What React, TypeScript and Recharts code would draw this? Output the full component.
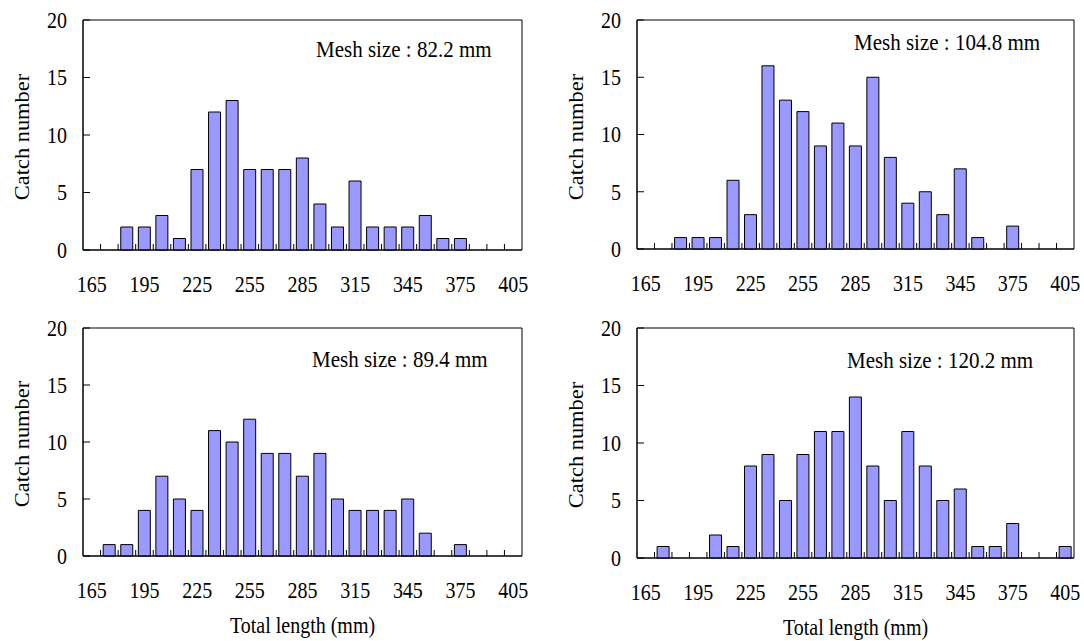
import React from "react";
import { BarChart, Bar, XAxis, YAxis, ReferenceArea } from "recharts";

const LENGTHS = [
  165, 175, 185, 195, 205, 215, 225, 235, 245, 255, 265, 275, 285, 295, 305,
  315, 325, 335, 345, 355, 365, 375, 385, 395, 405,
];
const MESH_82_2 = [0, 0, 2, 2, 3, 1, 7, 12, 13, 7, 7, 7, 8, 4, 2, 6, 2, 2, 2, 3, 1, 1, 0, 0, 0];
const MESH_104_8 = [0, 0, 1, 1, 1, 6, 3, 16, 13, 12, 9, 11, 9, 15, 8, 4, 5, 3, 7, 1, 0, 2, 0, 0, 0];
const MESH_89_4 = [0, 1, 1, 4, 7, 5, 4, 11, 10, 12, 9, 9, 7, 9, 5, 4, 4, 4, 5, 2, 0, 1, 0, 0, 0];
const MESH_120_2 = [0, 1, 0, 0, 2, 1, 8, 9, 5, 9, 11, 11, 14, 8, 5, 11, 8, 5, 6, 1, 1, 3, 0, 0, 1];
const Y_TICKS = [0, 5, 10, 15, 20];

const FONT = '"Liberation Serif", "Times New Roman", serif';
const BAR_FILL = "#9999ff";
const Y_AXIS_W = 83;
// the reference text is a little taller than it is wide
const STRETCH = 1.12;

function XTick(props: any) {
  const { x, y, payload, index, band } = props;
  const axisY = y - 26;
  const showLabel = (payload.value - 165) % 30 === 0;
  return (
    <g>
      {index > 0 && (
        <line x1={x - band / 2} x2={x - band / 2} y1={axisY} y2={axisY - 6} stroke="#000" />
      )}
      {showLabel && (
        <g transform={`translate(${x},${y}) scale(1,${STRETCH})`}>
          <text x={0} y={0} dy="0.71em" textAnchor="middle" fontSize={20} fontFamily={FONT} fill="#000">
            {payload.value}
          </text>
        </g>
      )}
    </g>
  );
}

function YTick(props: any) {
  const { x, y, payload } = props;
  return (
    <g>
      <line x1={x + 16} x2={x + 23} y1={y} y2={y} stroke="#000" />
      <g transform={`translate(${x},${y}) scale(1,${STRETCH})`}>
        <text x={0} y={0} dy="0.35em" textAnchor="end" fontSize={20} fontFamily={FONT} fill="#000">
          {payload.value}
        </text>
      </g>
    </g>
  );
}

interface PanelProps {
  values: number[];
  plotLeft: number;
  plotTop: number;
  plotW: number;
  plotH: number;
  mesh: string;
  meshLeft: number;
  meshTop: number;
  xTitle?: boolean;
}

function Panel({ values, plotLeft, plotTop, plotW, plotH, mesh, meshLeft, meshTop, xTitle }: PanelProps) {
  const data = LENGTHS.map((len, i) => ({ len, count: values[i] }));
  const band = plotW / LENGTHS.length;
  return (
    <>
      <div style={{ position: "absolute", left: plotLeft - Y_AXIS_W, top: plotTop - 20 }}>
        <BarChart
          width={plotW + Y_AXIS_W + 8}
          height={plotH + 70}
          data={data}
          margin={{ top: 20, right: 8, bottom: 10, left: 0 }}
          barCategoryGap="15%"
        >
          <XAxis
            dataKey="len"
            type="category"
            interval={0}
            height={40}
            tickSize={0}
            tickMargin={26}
            tickLine={false}
            axisLine={{ stroke: "#000" }}
            tick={(p: any) => <XTick {...p} band={band} />}
          />
          <YAxis
            type="number"
            domain={[0, 20]}
            ticks={Y_TICKS}
            width={Y_AXIS_W}
            tickSize={0}
            tickMargin={16}
            tickLine={false}
            axisLine={{ stroke: "#000" }}
            tick={(p: any) => <YTick {...p} />}
          />
          <ReferenceArea y1={0} y2={20} fill="none" stroke="#000" strokeWidth={1} ifOverflow="visible" />
          <Bar dataKey="count" fill={BAR_FILL} stroke="#000" strokeWidth={1} isAnimationActive={false} />
        </BarChart>
      </div>
      <div
        style={{
          position: "absolute",
          left: plotLeft - 61,
          top: plotTop + plotH / 2 + 2,
          transform: `translate(-50%, -50%) scale(1, ${STRETCH}) rotate(-90deg)`,
          whiteSpace: "nowrap",
          fontFamily: FONT,
          fontSize: 20,
          lineHeight: "20px",
        }}
      >
        Catch number
      </div>
      <div
        style={{
          position: "absolute",
          left: meshLeft,
          top: meshTop - 11,
          transform: `scale(1, ${STRETCH})`,
          whiteSpace: "nowrap",
          fontFamily: FONT,
          fontSize: 21,
          lineHeight: "21px",
        }}
      >
        {mesh}
      </div>
      {xTitle && (
        <div
          style={{
            position: "absolute",
            left: plotLeft + plotW / 2,
            top: plotTop + plotH + 69,
            transform: `translate(-50%, -50%) scale(1, ${STRETCH})`,
            whiteSpace: "nowrap",
            fontFamily: FONT,
            fontSize: 20,
            lineHeight: "20px",
          }}
        >
          Total length (mm)
        </div>
      )}
    </>
  );
}

export default function App() {
  return (
    <div style={{ position: "absolute", left: 0, top: 0, width: 1084, height: 641, background: "#fff" }}>
      <Panel values={MESH_82_2} plotLeft={83} plotTop={20} plotW={439} plotH={230} mesh="Mesh size : 82.2 mm" meshLeft={316} meshTop={50} />
      <Panel values={MESH_104_8} plotLeft={637} plotTop={20} plotW={437} plotH={229} mesh="Mesh size : 104.8 mm" meshLeft={854} meshTop={43} />
      <Panel values={MESH_89_4} plotLeft={83} plotTop={328} plotW={439} plotH={228} mesh="Mesh size : 89.4 mm" meshLeft={312} meshTop={360} xTitle />
      <Panel values={MESH_120_2} plotLeft={637} plotTop={328} plotW={437} plotH={230} mesh="Mesh size : 120.2 mm" meshLeft={847} meshTop={361} xTitle />
    </div>
  );
}
